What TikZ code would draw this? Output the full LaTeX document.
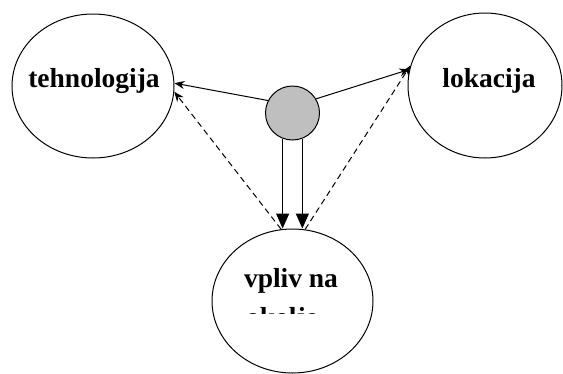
\documentclass[tikz,border=0pt]{standalone}
\usepackage{fontspec}
\setmainfont{Liberation Serif}[BoldFont={Liberation Serif Bold}]
\usetikzlibrary{shapes.geometric,arrows.meta}

\tikzset{
  topic/.style={draw, ellipse, line width=1pt, inner sep=0pt},
  hub/.style={draw, circle, fill=black!25, line width=1pt, minimum size=54pt, inner sep=0pt},
  caption/.style={anchor=base, inner sep=0pt, font=\fontsize{27.5}{30}\selectfont\bfseries},
  link/.style={line width=1pt, -{Stealth[length=10pt,width=8pt]}},
  weak/.style={link, dash pattern=on 6pt off 4pt},
  feed/.style={line width=1pt, -{Triangle[length=15pt,width=13pt]}}
}

\begin{document}
\begin{tikzpicture}[x=1pt, y=-1pt]
  \useasboundingbox (0,0) rectangle (563,373);

  % the three topics
  \node[topic, minimum width=162pt, minimum height=144pt] (tech) at (93,86) {};
  \node[topic, minimum width=154pt, minimum height=145pt] (loc)  at (485,85.5) {};
  \node[topic, minimum width=161pt, minimum height=144pt] (env)  at (292.5,301) {};

  \node[caption] (techtxt) at (94,87) {tehnologija};
  \node[caption] (loctxt)  at (489,87) {lokacija};
  \node[caption] (envtxt)  at (291,287) {vpliv na};
  \begin{scope}
    \clip (200,290) rectangle (380,313);
    \node[caption] (envtxt2) at (282,326) {okolje};
  \end{scope}

  % central hub
  \node[hub] (c) at (292.5,113) {};

  % connectors
  \draw[link] (c.153) -- (tech.2);
  \draw[link] (c.31)  -- (loc.168);
  \draw[weak] (env.99) -- (tech.-4);
  \draw[weak] (env.80) -- (loc.165);
  \draw[feed] (c.249) -- (c.249 |- env.north);
  \draw[feed] (c.291) -- (c.291 |- env.north);
\end{tikzpicture}
\end{document}
